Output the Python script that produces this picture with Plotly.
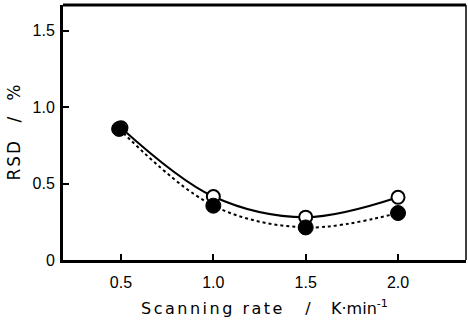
import plotly.graph_objects as go

rate = [0.5, 1.0, 1.5, 2.0]
rsd_open = [0.865, 0.415, 0.28, 0.41]
rsd_filled = [0.857, 0.355, 0.213, 0.307]
xticks = [0.5, 1.0, 1.5, 2.0]
xticklabels = ["0.5", "1.0", "1.5", "2.0"]
yticks = [0, 0.5, 1.0, 1.5]
yticklabels = ["0", "0.5", "1.0", "1.5"]

fig = go.Figure()
fig.add_trace(go.Scatter(
    x=rate, y=rsd_open, mode="lines+markers",
    line=dict(color="black", width=2, shape="spline", smoothing=1),
    marker=dict(symbol="circle", size=13, color="white", line=dict(color="black", width=2)),
    showlegend=False))
fig.add_trace(go.Scatter(
    x=[r - 0.01 for r in rate[:1]] + rate[1:], y=rsd_filled, mode="lines+markers",
    line=dict(color="black", width=2, dash="dot", shape="spline", smoothing=1),
    marker=dict(symbol="circle", size=15, color="black", line=dict(color="black", width=1)),
    showlegend=False))

fig.update_layout(
    width=468, height=320,
    margin=dict(l=63, r=2, t=5, b=60),
    paper_bgcolor="white", plot_bgcolor="white",
    font=dict(family="Liberation Sans, Arial, sans-serif", color="black", size=16),
    xaxis=dict(
        range=[0.186, 2.368], tickvals=xticks, ticktext=xticklabels,
        ticks="inside", ticklen=6, tickwidth=2, tickcolor="black",
        showline=True, linewidth=3, linecolor="black", mirror=False,
        showgrid=False, zeroline=False,
        tickfont=dict(size=16), ticklabelstandoff=6,
        title=dict(text='<span style="letter-spacing:2.5px">Scanning rate</span>    /    K·min<sup>-1</sup>',
                   font=dict(family="DejaVu Sans, sans-serif", size=16), standoff=13),
    ),
    yaxis=dict(
        range=[0, 1.667], tickvals=yticks, ticktext=yticklabels,
        ticks="inside", ticklen=6, tickwidth=2, tickcolor="black",
        showline=True, linewidth=3, linecolor="black",
        showgrid=False, zeroline=False,
        tickfont=dict(size=16), ticklabelstandoff=2,
        title=dict(text='<span style="letter-spacing:2px">RSD</span>   /   %',
                   font=dict(family="DejaVu Sans, sans-serif", size=17), standoff=8),
    ),
)
fig.add_shape(type="line", xref="paper", yref="paper", x0=0, x1=1, y0=1, y1=1,
              line=dict(color="black", width=3))
fig.add_shape(type="line", xref="paper", yref="paper", x0=1, x1=1, y0=0, y1=1,
              line=dict(color="black", width=1.5))

fig.write_html("out.html", config={"displayModeBar": False},
               post_script="document.body.style.margin='0';document.body.style.overflow='hidden';")
